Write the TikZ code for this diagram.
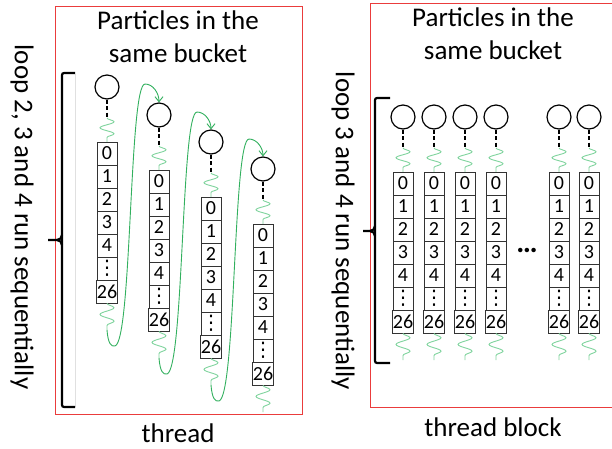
\documentclass[tikz,border=0pt]{standalone}
\usepackage{fontspec}
\setmainfont{Carlito}
\newfontfamily\symfont{DejaVu Sans}
\usetikzlibrary{arrows.meta,decorations.pathmorphing}
\definecolor{boxred}{RGB}{234,60,60}
\definecolor{wavegreen}{RGB}{128,212,158}
\definecolor{curvegreen}{RGB}{50,176,94}
\newcommand\vdotsglyph{{\symfont\fontsize{20}{20}\selectfont ⋮}}
\tikzset{
 frame/.style={draw=boxred, line width=1pt},
 ball/.style={circle, draw=black, line width=1.2pt, minimum size=24pt, inner sep=0pt},
 cell/.style={draw=black!80, line width=0.9pt, minimum width=20pt, minimum height=23pt, inner sep=0pt, font=\fontsize{20}{20}\selectfont},
 tether/.style={line width=1.5pt, dash pattern=on 4pt off 2.5pt},
 waveup/.style={draw=wavegreen, line width=0.9pt, decorate, decoration={snake, segment length=12pt, amplitude=7pt}},
 wavedown/.style={draw=wavegreen, line width=0.9pt, decorate, decoration={snake, segment length=13.5pt, amplitude=7pt}},
 hop/.style={draw=curvegreen, line width=0.9pt, -{Straight Barb[length=5pt,width=8pt]}},
 brk/.style={line width=2.2pt, rounded corners=2pt},
 big/.style={font=\fontsize{27}{33}\selectfont, align=center, inner sep=0pt},
}
\newcommand\particlecol[3]{%
 \node[ball] (#1c) at (#2,#3) {};
 \coordinate (#1t) at (#2,#3+31);
 \coordinate (#1w) at (#2,#3+55);
 \draw[tether] (#1c.south) -- (#1t);
 \draw[waveup] (#1t) -- (#1w);
 \foreach \lab [count=\k from 0] in {0,1,2,3,4,\vdotsglyph,26}
   \node[cell] (#1k\k) at (#2,#3+66.5+23*\k) {\lab};
 \coordinate (#1e) at (#2,#3+243);
 \draw[wavedown] (#1k6.south) -- (#1e);
}
\newcommand\hopcurve[4]{% from col, cx, cy, to col
 \draw[hop] (#1e) .. controls (#2+1,#3+256) and (#2+4,#3+260) .. (#2+8,#3+259)
   .. controls (#2+25,#3+254) and (#2+22,#3-3) .. (#2+38,#3-3)
   .. controls (#2+46,#3-3) and (#2+52,#3+6) .. (#4c.north);
}
\begin{document}
\begin{tikzpicture}[x=1pt,y=-1pt]
\clip (0,0) rectangle (612,448);
\fill[white] (0,0) rectangle (612,448);
% frames
\draw[frame] (55,6) rectangle (302,414);
\draw[frame] (370,3) rectangle (630,407);
% titles
\node[big] (tl) at (178,37) {Particles in the\\same bucket};
\node[big] (tr) at (493,34) {Particles in the\\same bucket};
\node[big] (bl) at (178,433) {thread};
\node[big] (br) at (493,427) {thread block};
\node[big, rotate=-90] (sl) at (22,217) {loop 2, 3 and 4 run sequentially};
\node[big, rotate=-90] (sr) at (343,231) {loop 3 and 4 run sequentially};
% faint guide
\draw[black!12, line width=0.8pt] (75,74) -- (75,407);
% brackets
\draw[brk] (75,73) -- (62,73) -- (62,407) -- (75,407);
\draw[line width=2.2pt] (48,240) -- (57,240) to[out=0,in=90] (62,245);
\draw[line width=2.2pt] (57,240) to[out=0,in=-90] (62,235);
\draw[brk] (390,98) -- (375,98) -- (375,363) -- (390,363);
\draw[line width=2.2pt] (363,231) -- (370,231) to[out=0,in=90] (375,236);
\draw[line width=2.2pt] (370,231) to[out=0,in=-90] (375,226);
% left columns
\particlecol{a}{107}{87}
\particlecol{b}{159}{115}
\particlecol{c}{211}{142}
\particlecol{d}{263}{169}
\hopcurve{a}{107}{87}{b}
\hopcurve{b}{159}{115}{c}
\hopcurve{c}{211}{142}{d}
% right columns
\particlecol{p}{403}{117}
\particlecol{q}{434}{117}
\particlecol{r}{465}{117}
\particlecol{s}{496}{117}
\particlecol{u}{559}{117}
\particlecol{v}{589}{117}
\node[font=\fontsize{30}{30}\selectfont\bfseries, inner sep=0pt] (dots) at (527,250) {…};
\end{tikzpicture}
\end{document}
